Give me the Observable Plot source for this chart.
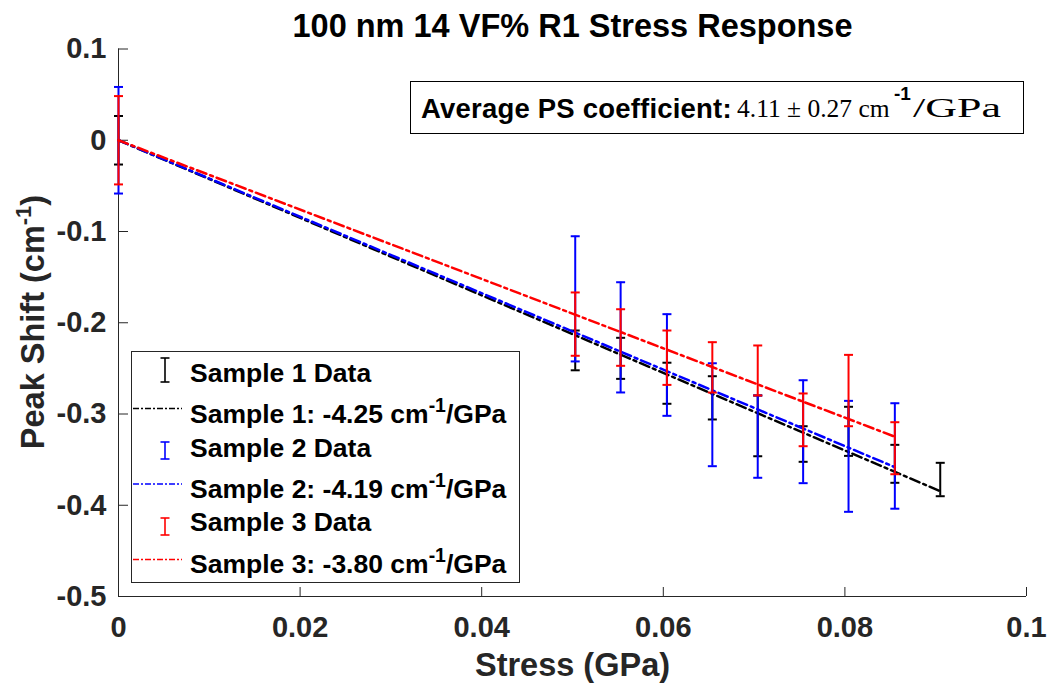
<!DOCTYPE html>
<html><head><meta charset="utf-8">
<script src="https://cdn.jsdelivr.net/npm/d3@7"></script>
<script src="https://cdn.jsdelivr.net/npm/@observablehq/plot@0.6"></script>
<style>
html,body{margin:0;padding:0;background:#fff;}
</style></head><body><div id="chart"></div>
<script>
// ---------------- data ----------------
const stress = [0, 0.0503, 0.0553, 0.0604, 0.0654, 0.0704, 0.0754, 0.0804, 0.0855, 0.0905];
const sample1Shift = [0, -0.2303, -0.2390, -0.2663, -0.2823, -0.3130, -0.3329, -0.3190, -0.3546, -0.3718];
const sample1Err   = [0.0266, 0.0218, 0.0225, 0.0225, 0.0237, 0.0333, 0.0195, 0.0269, 0.0208, 0.0183];
const sample2Shift = [0, -0.1738, -0.2160, -0.2463, -0.3008, -0.3248, -0.3194, -0.3464, -0.3460];
const sample2Err   = [0.0584, 0.0686, 0.0604, 0.0557, 0.0564, 0.0451, 0.0564, 0.0608, 0.0578];
const sample3Shift = [0, -0.2015, -0.2162, -0.2383, -0.2489, -0.2523, -0.3064, -0.2743, -0.3375];
const sample3Err   = [0.0484, 0.0347, 0.0310, 0.0298, 0.0276, 0.0274, 0.0289, 0.0391, 0.0285];
const fitSlopes = [-4.25, -4.19, -3.80];
const sampleColors = ["#000000", "#0000ff", "#ff0000"];
const dataLabels = ["Sample 1 Data", "Sample 2 Data", "Sample 3 Data"];
const fitLabels = ["Sample 1: -4.25 cm", "Sample 2: -4.19 cm", "Sample 3: -3.80 cm"];
const xTicks = [0, 0.02, 0.04, 0.06, 0.08, 0.1];
const xTickLabels = ["0", "0.02", "0.04", "0.06", "0.08", "0.1"];
const yTicks = [0.1, 0, -0.1, -0.2, -0.3, -0.4, -0.5];
const yTickLabels = ["0.1", "0", "-0.1", "-0.2", "-0.3", "-0.4", "-0.5"];
const titleText = "100 nm 14 VF% R1 Stress Response";
const xLabelText = "Stress (GPa)";
const yLabelText = "Peak Shift (cm";
const annotationLead = "Average PS coefficient:";
const annotationValue = "4.11 \u00B1 0.27 cm";
const unitSup = "-1";
const unitTail = "/GPa";

// ---------------- layout ----------------
const W = 1047, H = 685;
const M = {left: 118, right: 21, top: 48.5, bottom: 89};
const frameW = W - M.left - M.right, frameH = H - M.top - M.bottom;
const SANS = "'Liberation Sans', Arial, Helvetica, sans-serif";
const SERIF = "'Liberation Serif', 'Times New Roman', serif";
const AX = "#262626";
const DASH = "10,4,3,4";

const capSymbol = {draw(ctx, size) { const w = Math.sqrt(size / Math.PI); ctx.moveTo(-w, 0); ctx.lineTo(w, 0); }};

const samples = [
  {shift: sample1Shift, err: sample1Err},
  {shift: sample2Shift, err: sample2Err},
  {shift: sample3Shift, err: sample3Err}
].map((s, k) => ({
  rows: s.shift.map((v, i) => ({x: stress[i], lo: v - s.err[i], hi: v + s.err[i]})),
  fit: [0, stress[s.shift.length - 1]].map(x => ({x, y: fitSlopes[k] * x})),
  color: sampleColors[k]
}));

const marks = [
  Plot.ruleY([-0.5], {stroke: AX, strokeWidth: 1}),
  Plot.ruleX([0], {stroke: AX, strokeWidth: 1}),
  Plot.ruleX(xTicks, {stroke: AX, strokeWidth: 1, insetTop: frameH - 9}),
  Plot.ruleY(yTicks, {stroke: AX, strokeWidth: 1, insetRight: frameW - 10}),
  Plot.axisX({ticks: xTicks, tickFormat: d => xTickLabels[xTicks.indexOf(d)], tickSize: 0, tickPadding: 20, fontSize: 29, fill: AX, label: null}),
  Plot.axisY({ticks: yTicks, tickFormat: d => yTickLabels[yTicks.indexOf(d)], tickSize: 0, tickPadding: 12, fontSize: 29, fill: AX, label: null}),
  Plot.text([titleText], {text: d => d, frameAnchor: "top", lineAnchor: "bottom", dy: -12.5, fontSize: 32.5, fontWeight: "bold", fill: "#000"}),
  Plot.text([xLabelText], {text: d => d, frameAnchor: "bottom", lineAnchor: "bottom", dy: 79, fontSize: 32.5, fontWeight: "bold", fill: AX})
];
for (const s of samples) {
  marks.push(
    Plot.ruleX(s.rows, {x: "x", y1: "lo", y2: "hi", stroke: s.color, strokeWidth: 2}),
    Plot.dot(s.rows, {x: "x", y: "lo", r: 4.5, symbol: capSymbol, stroke: s.color, strokeWidth: 2, fill: "none"}),
    Plot.dot(s.rows, {x: "x", y: "hi", r: 4.5, symbol: capSymbol, stroke: s.color, strokeWidth: 2, fill: "none"}),
    Plot.line(s.fit, {x: "x", y: "y", stroke: s.color, strokeWidth: 2.5, strokeDasharray: DASH})
  );
}

const plot = Plot.plot({
  width: W, height: H,
  marginLeft: M.left, marginRight: M.right, marginTop: M.top, marginBottom: M.bottom,
  x: {domain: [0, 0.1]},
  y: {domain: [-0.5, 0.1]},
  style: {fontFamily: SANS, fontWeight: "bold", background: "#fff", overflow: "visible"},
  marks
});
document.getElementById("chart").appendChild(plot);

const svg = d3.select(plot);

// y label with superscript
const yl = svg.append("text")
  .attr("transform", "translate(44,322) rotate(-90)")
  .attr("text-anchor", "middle")
  .attr("font-family", SANS).attr("font-weight", "bold").attr("font-size", 32.5).attr("fill", AX);
yl.append("tspan").text(yLabelText);
yl.append("tspan").attr("font-size", 22).attr("dy", -13).text(unitSup);
yl.append("tspan").attr("dy", 13).text(")");

// annotation box (single text element with tspans)
const ann = svg.append("g").attr("text-anchor", "start").attr("fill", "#000");
ann.append("rect").attr("x", 410.5).attr("y", 81.5).attr("width", 613).attr("height", 52)
  .attr("fill", "#fff").attr("stroke", "#000").attr("stroke-width", 1);
const at = ann.append("text").attr("x", 421).attr("y", 118).attr("text-anchor", "start").attr("fill", "#000");
at.append("tspan").attr("font-family", SANS).attr("font-weight", "bold").attr("font-size", 27.5)
  .attr("letter-spacing", 0.2).text(annotationLead);
at.append("tspan").attr("x", 737).attr("y", 117).attr("font-family", SERIF).attr("font-weight", "normal")
  .attr("font-size", 25.5).text(annotationValue);
at.append("tspan").attr("x", 894).attr("y", 100).attr("font-family", SANS).attr("font-weight", "bold")
  .attr("font-size", 19).text(unitSup);
at.append("tspan").attr("x", 913).attr("y", 117).attr("font-family", SERIF).attr("font-weight", "normal")
  .attr("font-size", 28).attr("textLength", 88).attr("lengthAdjust", "spacingAndGlyphs").text(unitTail);

// legend
const lg = svg.append("g").attr("font-family", SANS).attr("font-weight", "bold").attr("text-anchor", "start");
lg.append("rect").attr("x", 131.5).attr("y", 351.5).attr("width", 388).attr("height", 231)
  .attr("fill", "#fff").attr("stroke", AX).attr("stroke-width", 1);
const symSpan = [[358, 382], [442, 459], [518, 535]];
const dataBase = [381.5, 457, 531];
const lineY = [408.5, 484, 559.5];
const fitBase = [422.5, 498, 573];
for (let k = 0; k < 3; k++) {
  const c = sampleColors[k];
  const [t, b] = symSpan[k];
  lg.append("line").attr("x1", 165).attr("x2", 165).attr("y1", t).attr("y2", b).attr("stroke", c).attr("stroke-width", 1.6);
  lg.append("line").attr("x1", 160.5).attr("x2", 169.5).attr("y1", t).attr("y2", t).attr("stroke", c).attr("stroke-width", 1.6);
  lg.append("line").attr("x1", 160.5).attr("x2", 169.5).attr("y1", b).attr("y2", b).attr("stroke", c).attr("stroke-width", 1.6);
  lg.append("text").attr("x", 190).attr("y", dataBase[k]).attr("font-size", 26.5).attr("fill", "#000").attr("text-anchor", "start").text(dataLabels[k]);
  lg.append("line").attr("x1", 133).attr("x2", 182).attr("y1", lineY[k]).attr("y2", lineY[k])
    .attr("stroke", c).attr("stroke-width", 1.6).attr("stroke-dasharray", "6,2,2,2");
  const ft = lg.append("text").attr("x", 190).attr("y", fitBase[k]).attr("font-size", 26.5).attr("fill", "#000").attr("text-anchor", "start");
  ft.append("tspan").text(fitLabels[k]);
  ft.append("tspan").attr("font-size", 19.5).attr("dy", -11).text(unitSup);
  ft.append("tspan").attr("dy", 11).text(unitTail);
}
</script>
</body></html>
